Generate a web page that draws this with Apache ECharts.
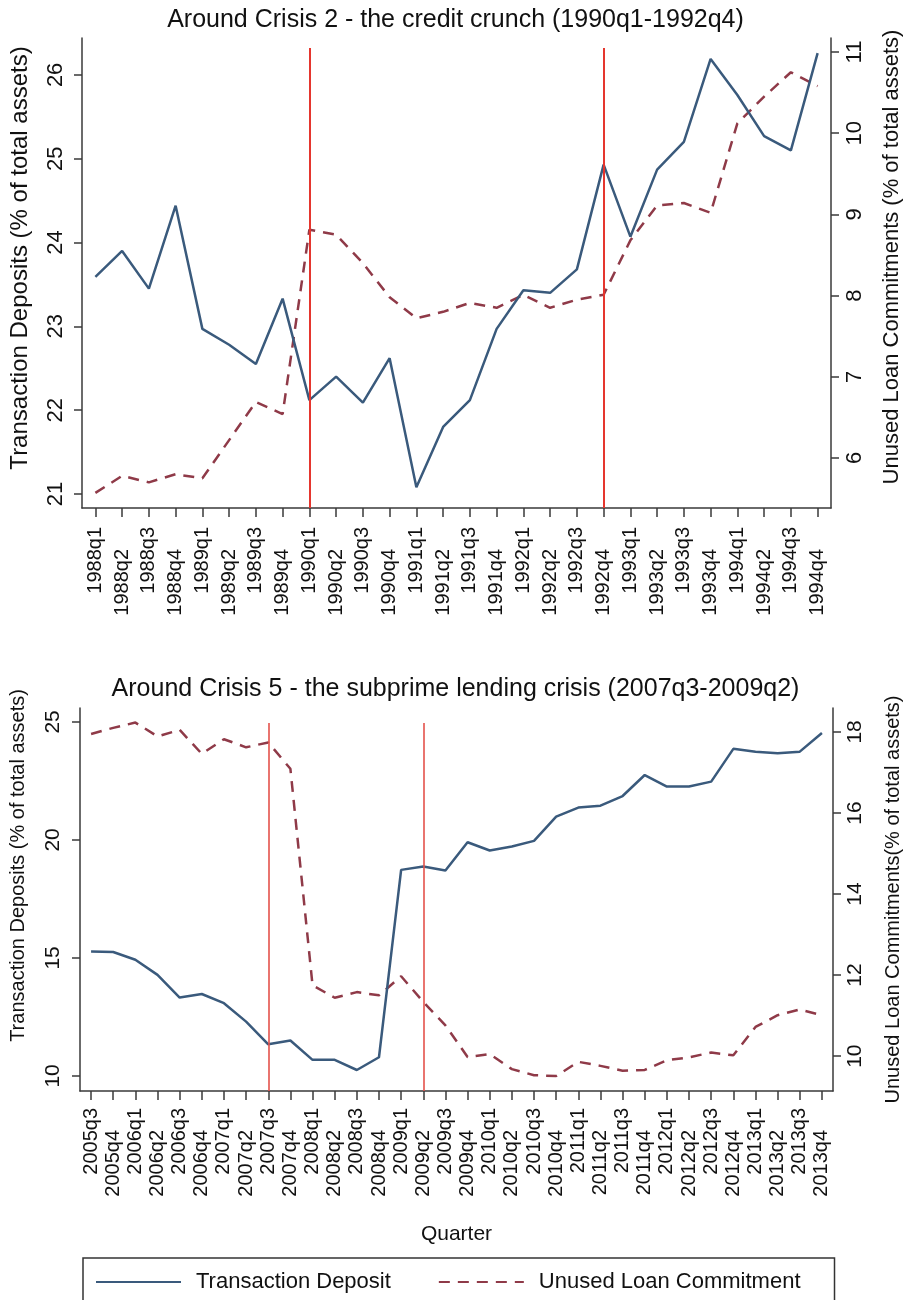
<!DOCTYPE html>
<html>
<head>
<meta charset="utf-8">
<script src="https://cdn.jsdelivr.net/npm/echarts@6/dist/echarts.min.js"></script>
<style>
html,body{margin:0;padding:0;background:#fff;}
#c{width:911px;height:1300px;}
</style>
</head>
<body>
<div id="c"></div>
<script>
// ---------- Data ----------
const quartersTop = ['1988q1','1988q2','1988q3','1988q4','1989q1','1989q2','1989q3','1989q4',
  '1990q1','1990q2','1990q3','1990q4','1991q1','1991q2','1991q3','1991q4',
  '1992q1','1992q2','1992q3','1992q4','1993q1','1993q2','1993q3','1993q4',
  '1994q1','1994q2','1994q3','1994q4'];
const depositTop = [23.59,23.90,23.45,24.44,22.97,22.78,22.55,23.33,
  22.12,22.40,22.09,22.62,21.08,21.80,22.12,22.97,
  23.43,23.40,23.68,24.93,24.07,24.87,25.20,26.19,
  25.76,25.27,25.10,26.26];
const commitTop = [5.57,5.78,5.70,5.80,5.75,6.22,6.69,6.54,
  8.81,8.75,8.40,7.98,7.72,7.80,7.91,7.85,
  8.01,7.85,7.95,8.01,8.68,9.11,9.14,9.02,
  10.12,10.45,10.75,10.58];
const crisisTop = ['1990q1','1992q4'];
const leftTicksTop = [21,22,23,24,25,26];
const rightTicksTop = [6,7,8,9,10,11];

const quartersBot = ['2005q3','2005q4','2006q1','2006q2','2006q3','2006q4','2007q1','2007q2',
  '2007q3','2007q4','2008q1','2008q2','2008q3','2008q4','2009q1','2009q2',
  '2009q3','2009q4','2010q1','2010q2','2010q3','2010q4','2011q1','2011q2',
  '2011q3','2011q4','2012q1','2012q2','2012q3','2012q4','2013q1','2013q2',
  '2013q3','2013q4'];
const depositBot = [15.27,15.25,14.92,14.28,13.32,13.47,13.08,12.30,
  11.34,11.50,10.68,10.68,10.25,10.79,18.73,18.87,
  18.70,19.90,19.55,19.72,19.96,20.99,21.37,21.45,
  21.86,22.75,22.26,22.26,22.47,23.86,23.74,23.67,
  23.74,24.53];
const commitBot = [17.95,18.10,18.23,17.89,18.05,17.46,17.82,17.62,
  17.74,17.09,11.75,11.44,11.58,11.50,11.97,11.34,
  10.76,9.98,10.05,9.68,9.53,9.51,9.86,9.76,
  9.64,9.66,9.90,9.97,10.09,10.02,10.72,11.01,
  11.15,11.01];
const crisisBot = ['2007q3','2009q2'];
const leftTicksBot = [10,15,20,25];
const rightTicksBot = [10,12,14,16,18];

const seriesNames = ['Transaction Deposit','Unused Loan Commitment'];
const titles = ['Around Crisis 2 - the credit crunch (1990q1-1992q4)',
  'Around Crisis 5 - the subprime lending crisis (2007q3-2009q2)'];

// ---------- Styles ----------
const FONT = '"Liberation Sans", Arial, Helvetica, sans-serif';
const BLUE = '#3a5a7c';
const MAROON = '#8f3a48';
const RED = '#e5362e';
const RED2 = '#e4524b';
const AXIS = '#3a3a3a';
const TXT = '#111';

function xAxisCfg(gridIndex, cats, name, margin) {
  return {
    type: 'category', gridIndex, data: cats, boundaryGap: true,
    name: name || '', nameLocation: 'middle', nameGap: 133,
    nameTextStyle: {fontFamily: FONT, fontSize: 21, color: TXT},
    axisLine: {show: true, lineStyle: {color: AXIS, width: 1.5}},
    axisTick: {show: true, alignWithLabel: true, length: 9, lineStyle: {color: AXIS, width: 1.5}},
    axisLabel: {
      interval: 0, rotate: 90, margin, color: TXT, fontFamily: FONT, fontSize: 20,
      formatter: (v, i) => (i % 2 ? '{b|' + v + '}' : '{a|' + v + '}'),
      rich: {
        a: {fontFamily: FONT, fontSize: 20, color: TXT},
        b: {fontFamily: FONT, fontSize: 20, color: TXT, padding: [0, 22, 0, 0]}
      }
    },
    splitLine: {show: false}
  };
}
function yAxisCfg(gridIndex, pos, min, max, ticks, name, nameGap, nameSize, namePadLeft, labelSize, labelMargin) {
  return {
    type: 'value', gridIndex, position: pos, min, max,
    name, nameLocation: 'middle', nameGap, nameRotate: 90,
    nameTextStyle: {fontFamily: FONT, fontSize: nameSize, color: TXT, padding: [0, 0, 0, namePadLeft]},
    axisLine: {show: true, lineStyle: {color: AXIS, width: 1.5}},
    axisTick: {show: true, length: 8, customValues: ticks, lineStyle: {color: AXIS, width: 1.5}},
    axisLabel: {rotate: 90, margin: labelMargin, customValues: ticks, color: TXT, fontFamily: FONT, fontSize: labelSize},
    splitLine: {show: false}
  };
}
function crisisLines(cats, yTop, yBot, color, width) {
  return {
    silent: true, symbol: 'none', label: {show: false},
    lineStyle: {color, width, type: 'solid'},
    emphasis: {disabled: true},
    data: cats.map(c => [{coord: [c, yTop]}, {coord: [c, yBot]}])
  };
}

const chart = echarts.init(document.getElementById('c'), null, {renderer: 'canvas'});
const option = {
  animation: false,
  backgroundColor: '#fff',
  textStyle: {fontFamily: FONT},
  title: [
    {text: titles[0], left: 'center', top: 3, textStyle: {fontFamily: FONT, fontSize: 25, fontWeight: 'normal', color: TXT}},
    {text: titles[1], left: 'center', top: 672, textStyle: {fontFamily: FONT, fontSize: 25, fontWeight: 'normal', color: TXT}}
  ],
  grid: [
    {left: 80, right: 73, top: 38, height: 470},
    {left: 78, right: 70, top: 708, height: 383}
  ],
  xAxis: [
    xAxisCfg(0, quartersTop, '', 19),
    xAxisCfg(1, quartersBot, 'Quarter', 17)
  ],
  yAxis: [
    yAxisCfg(0, 'left', 20.833, 26.44, leftTicksTop, 'Transaction Deposits (% of total assets)', 50, 24, 30, 22, 15),
    yAxisCfg(0, 'right', 5.384, 11.172, rightTicksTop, 'Unused Loan Commitments (% of total assets)', 50, 22, 32, 22, 13),
    yAxisCfg(1, 'left', 9.36, 25.59, leftTicksBot, 'Transaction Deposits (% of total assets)', 52, 20, 68, 21, 16),
    yAxisCfg(1, 'right', 9.14, 18.59, rightTicksBot, 'Unused Loan Commitments(% of total assets)', 50, 20, 0, 21, 12)
  ],
  legend: {
    show: true, data: seriesNames, left: 83, top: 1258,
    orient: 'horizontal', itemWidth: 85, itemHeight: 14, itemGap: 47,
    padding: [13, 34, 30, 12], borderColor: '#333', borderWidth: 1.5,
    itemStyle: {color: 'rgba(0,0,0,0)', borderWidth: 0, opacity: 0},
    textStyle: {fontFamily: FONT, fontSize: 22, color: TXT, padding: [0, 0, 0, 10]},
    selectedMode: false
  },
  series: [
    {name: seriesNames[0], type: 'line', xAxisIndex: 0, yAxisIndex: 0, data: depositTop,
      symbol: 'none', lineStyle: {color: BLUE, width: 2.5}, itemStyle: {color: BLUE},
      markLine: crisisLines(crisisTop, 26.32, 20.833, RED, 2), z: 3},
    {name: seriesNames[1], type: 'line', xAxisIndex: 0, yAxisIndex: 1, data: commitTop,
      symbol: 'none', lineStyle: {color: MAROON, width: 2.5, type: [11, 8]}, itemStyle: {color: MAROON}, z: 2},
    {name: seriesNames[0], type: 'line', xAxisIndex: 1, yAxisIndex: 2, data: depositBot,
      symbol: 'none', lineStyle: {color: BLUE, width: 2.5}, itemStyle: {color: BLUE},
      markLine: crisisLines(crisisBot, 24.95, 9.36, RED2, 1.6), z: 3},
    {name: seriesNames[1], type: 'line', xAxisIndex: 1, yAxisIndex: 3, data: commitBot,
      symbol: 'none', lineStyle: {color: MAROON, width: 2.5, type: [11, 8]}, itemStyle: {color: MAROON}, z: 2}
  ]
};
chart.setOption(option);
</script>
</body>
</html>
